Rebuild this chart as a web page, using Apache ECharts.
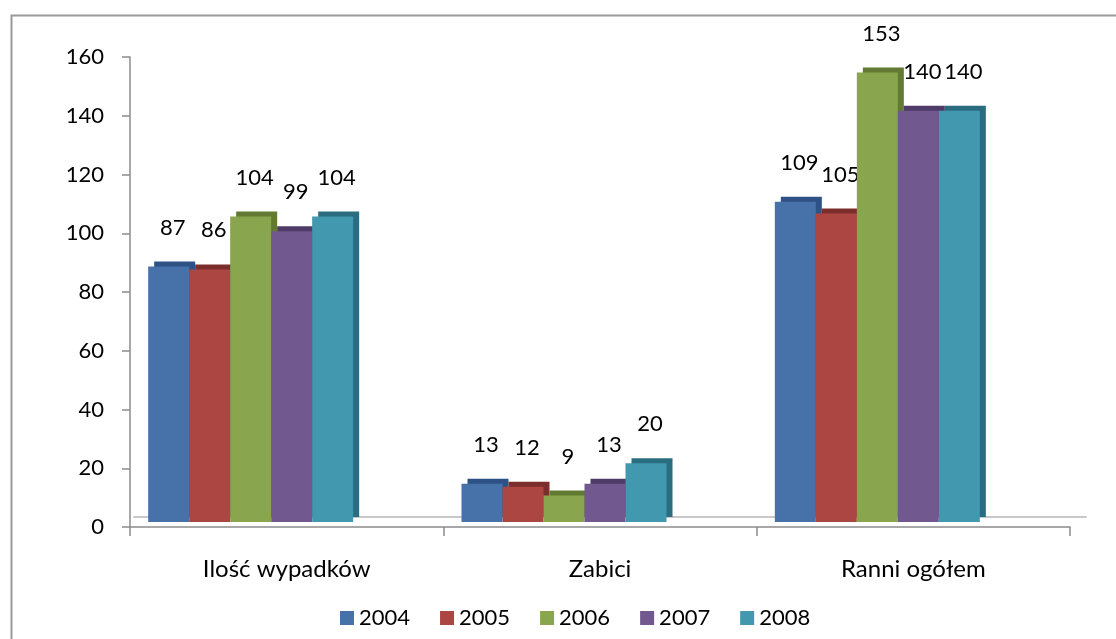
<!DOCTYPE html>
<html>
<head>
<meta charset="utf-8">
<script src="https://cdn.jsdelivr.net/npm/echarts@6/dist/echarts.min.js"></script>
<style>
html,body{margin:0;padding:0;background:#fff;}
#c{width:1116px;height:639px;}
</style>
</head>
<body>
<div id="c"></div>
<script>
const categories = ['Ilość wypadków', 'Zabici', 'Ranni ogółem'];
const years = ['2004', '2005', '2006', '2007', '2008'];
const v2004 = [87, 13, 109];
const v2005 = [86, 12, 105];
const v2006 = [104, 9, 153];
const v2007 = [99, 13, 140];
const v2008 = [104, 20, 140];
const yTicks = { min: 0, max: 160, interval: 20 };

const values = [v2004, v2005, v2006, v2007, v2008];
const colors = ['#4672A9', '#AB4643', '#89A54E', '#71588F', '#4198AF'];
const sideColors = ['#2F5286', '#7C2E2C', '#627A31', '#4E3B68', '#2A6C80'];
const FONT = 'Lato, "Liberation Sans", sans-serif';

const chart = echarts.init(document.getElementById('c'));
chart.setOption({
  animation: false,
  backgroundColor: '#fff',
  textStyle: { fontFamily: FONT },
  graphic: [{
    type: 'rect', left: 9, top: 13,
    shape: { width: 1300, height: 800 },
    style: { fill: 'none', stroke: '#9a9a9a', lineWidth: 2 },
    silent: true, z: 0
  }],
  grid: [
    { left: 130, right: 46, top: 57, bottom: 112 },
    { left: 94, right: 82, top: 52, bottom: 117 },
    { left: 134, right: 30, top: 53, bottom: 122 }
  ],
  legend: {
    bottom: 5, left: 335,
    itemWidth: 14, itemHeight: 14, itemGap: 30,
    icon: 'rect',
    itemStyle: { shadowColor: 'rgba(0,0,0,0)', shadowOffsetX: 0, shadowOffsetY: 0, shadowBlur: 0 },
    textStyle: { fontSize: 22, color: '#000', fontFamily: FONT },
    data: years
  },
  xAxis: [
    {
      gridIndex: 0, type: 'category', data: categories, boundaryGap: true,
      axisLine: { lineStyle: { color: '#8c8c8c', width: 1.5 } },
      axisTick: { show: true, interval: 0, length: 9, lineStyle: { color: '#8c8c8c', width: 1.5 } },
      axisLabel: { fontSize: 24, color: '#000', margin: 30, fontFamily: FONT }
    },
    {
      gridIndex: 1, type: 'category', data: categories, show: false
    },
    {
      gridIndex: 2, type: 'category', data: categories,
      axisLine: { lineStyle: { color: '#c8c8c8', width: 2 } },
      axisTick: { show: false }, axisLabel: { show: false }
    }
  ],
  yAxis: [
    {
      gridIndex: 0, type: 'value', min: yTicks.min, max: yTicks.max, interval: yTicks.interval,
      axisLine: { show: true, lineStyle: { color: '#8c8c8c', width: 1.5 } },
      axisTick: { show: true, length: 8, lineStyle: { color: '#8c8c8c', width: 1.5 } },
      splitLine: { show: false },
      axisLabel: { fontSize: 22, color: '#000', margin: 26, fontFamily: FONT }
    },
    {
      gridIndex: 1, type: 'value', min: yTicks.min, max: yTicks.max, interval: yTicks.interval, show: false,
      splitLine: { show: false }
    },
    {
      gridIndex: 2, type: 'value', min: yTicks.min, max: yTicks.max, show: false,
      splitLine: { show: false }
    }
  ],
  series: years.map((y, i) => ({
    name: y,
    type: 'bar',
    xAxisIndex: 1, yAxisIndex: 1,
    data: values[i],
    barWidth: 41,
    barGap: '0%',
    itemStyle: {
      color: colors[i],
      shadowColor: sideColors[i],
      shadowOffsetX: 6,
      shadowOffsetY: -5,
      shadowBlur: 0
    },
    label: {
      show: true, position: 'top', distance: 28, offset: [4, 0],
      fontSize: 22, color: '#000', fontFamily: FONT
    },
    z: 2 + i
  }))
});
</script>
</body>
</html>
